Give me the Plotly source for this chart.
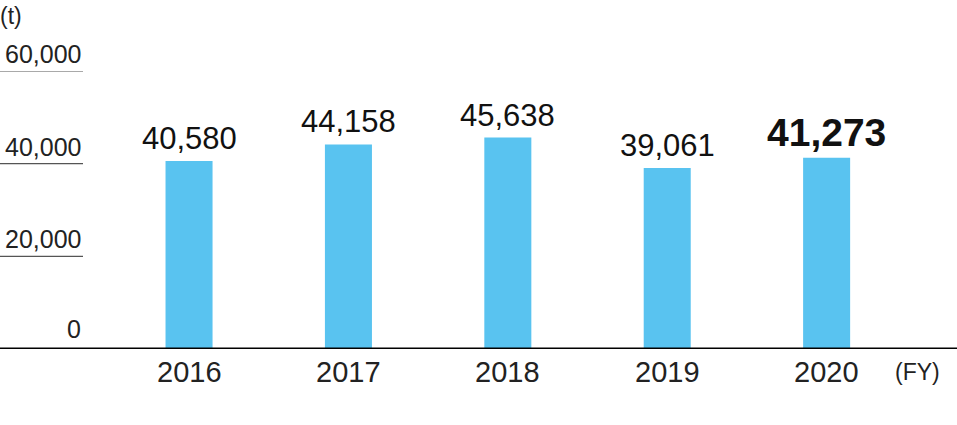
import plotly.graph_objects as go

years = ["2016", "2017", "2018", "2019", "2020"]
values = [40580, 44158, 45638, 39061, 41273]
value_labels = ["40,580", "44,158", "45,638", "39,061", "41,273"]
tick_vals = [0, 20000, 40000, 60000]
tick_labels = ["0", "20,000", "40,000", "60,000"]

W, H = 957, 425
T, B = 71, 76
PH = H - T - B
FONT = "Liberation Sans, Arial, Helvetica, sans-serif"
BAR = "#59C3F0"

fig = go.Figure()
fig.add_trace(go.Bar(
    x=years, y=values, marker=dict(color=BAR, line=dict(width=0)),
    width=0.295, hoverinfo="skip", cliponaxis=False,
))

ann = []
# value labels
for i, (v, lab) in enumerate(zip(values, value_labels)):
    last = i == len(years) - 1
    ann.append(dict(
        x=i, y=v, xref="x", yref="y", text=lab, showarrow=False,
        xanchor="center", yanchor="bottom", yshift=3 if not last else 2,
        font=dict(family=FONT, size=39 if last else 31, color="#111",
                  weight=700 if last else 400),
    ))
# category labels
for i, y in enumerate(years):
    ann.append(dict(
        x=i, y=0, xref="x", yref="y", text=y, showarrow=False,
        xanchor="center", yanchor="top", yshift=-5,
        font=dict(family=FONT, size=29, color="#222"),
    ))
# y tick labels
for tv, tl in zip(tick_vals, tick_labels):
    ann.append(dict(
        x=83 / W, y=tv, xref="paper", yref="y", text=tl, showarrow=False,
        xanchor="right", yanchor="bottom", yshift=1 if tv else 4,
        font=dict(family=FONT, size=25, color="#222"),
    ))
# unit labels
ann.append(dict(x=0, y=(H - B - 1) / PH, xref="paper", yref="paper", text="(t)",
                showarrow=False, xanchor="left", yanchor="top", xshift=-2,
                font=dict(family=FONT, size=23, color="#222")))
ann.append(dict(x=942 / W, y=0, xref="paper", yref="y", text="(FY)", showarrow=False,
                xanchor="right", yanchor="top", yshift=-8,
                font=dict(family=FONT, size=23, color="#222")))

shapes = []
for tv in tick_vals[1:]:
    shapes.append(dict(type="line", xref="paper", yref="y", x0=0, x1=83 / W,
                       y0=tv, y1=tv, line=dict(color="#555", width=1.2)))
shapes.append(dict(type="line", xref="paper", yref="y", x0=0, x1=1,
                   y0=0, y1=0, line=dict(color="#000", width=3)))

fig.update_layout(
    width=W, height=H,
    margin=dict(l=0, r=0, t=T, b=B, pad=0),
    paper_bgcolor="white", plot_bgcolor="white",
    showlegend=False,
    xaxis=dict(type="category", range=[-1.186, 4.818], showticklabels=False,
               showgrid=False, zeroline=False, showline=False, ticks=""),
    yaxis=dict(range=[0, 60000], showticklabels=False, showgrid=False,
               zeroline=False, showline=False, ticks=""),
    annotations=ann, shapes=shapes,
)

fig.write_html("out.html", post_script="document.body.style.margin='0';",
               config={"displayModeBar": False})
